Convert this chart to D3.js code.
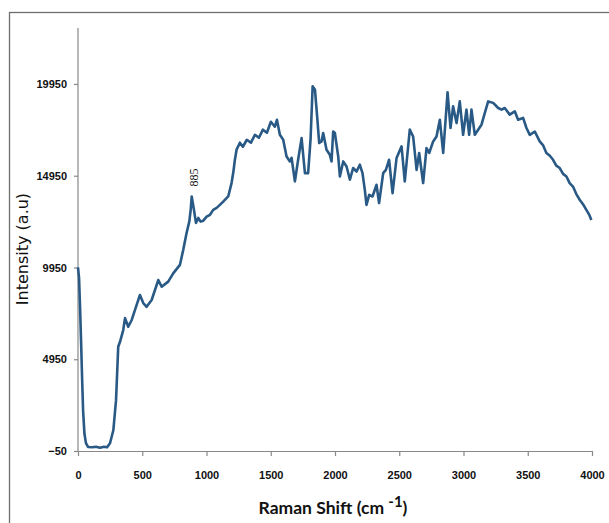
<!DOCTYPE html>
<html>
<head>
<meta charset="utf-8">
<script src="https://cdn.jsdelivr.net/npm/d3@7"></script>
<style>
    body { margin: 0; background: #fff; }
    svg { display: block; }
</style>
</head>
<body>
<svg id="chart" width="609" height="523"></svg>
<script>
const ramanShift = [
    0, 8, 16, 24, 32, 40, 50, 62, 78, 109, 140, 171, 202, 226, 249, 275, 296, 313, 327, 352, 366, 391, 418,
    443, 482, 508, 534, 573, 625, 651, 702, 741, 793, 819, 845, 866, 877, 885, 900, 918, 936, 954, 975,
    1001, 1027, 1052, 1079, 1104, 1130, 1169, 1195, 1208, 1221, 1234, 1260, 1283, 1314, 1346, 1377, 1408, 1439, 1470, 1501,
    1532, 1548, 1571, 1597, 1623, 1649, 1662, 1688, 1713, 1740, 1766, 1791, 1810, 1826, 1844, 1861, 1877, 1895, 1908, 1934,
    1960, 1973, 1986, 1999, 2025, 2038, 2064, 2090, 2116, 2141, 2168, 2193, 2214, 2232, 2245, 2266, 2292, 2323, 2343, 2375,
    2396, 2421, 2448, 2479, 2518, 2543, 2582, 2608, 2635, 2655, 2686, 2712, 2733, 2764, 2790, 2816, 2842, 2876, 2899, 2919,
    2946, 2971, 2997, 3023, 3044, 3062, 3088, 3114, 3140, 3166, 3192, 3231, 3270, 3296, 3321, 3360, 3399, 3425, 3464, 3490,
    3516, 3555, 3593, 3620, 3645, 3670, 3697, 3722, 3749, 3775, 3801, 3826, 3852, 3878, 3904, 3930, 3956, 3980, 3995
];
const intensity = [
    9950, 9400, 7800, 5900, 3900, 2100, 900, 380, 170, 150, 180, 125, 180, 150, 370, 1080, 2720, 5630, 5900, 6540, 7190, 6720, 7090,
    7630, 8450, 8010, 7810, 8180, 9270, 8900, 9180, 9630, 10090, 10910, 11830, 12450, 13090, 13820, 13200, 12380, 12650, 12450, 12500,
    12720, 12820, 13090, 13200, 13360, 13540, 13820, 14550, 15110, 15820, 16370, 16750, 16530, 16910, 16750, 17180, 17020, 17460, 17290, 17890,
    17620, 18000, 17180, 16910, 16000, 15730, 15930, 14640, 15820, 17000, 15090, 15090, 16960, 19820, 19640, 18180, 16730, 16820, 17280, 16370,
    16090, 15730, 17360, 17280, 16000, 14910, 15730, 15450, 14730, 15370, 15180, 15550, 15090, 14180, 13360, 13910, 13820, 14460, 13460, 15090,
    15270, 15820, 14000, 15910, 16550, 14640, 17460, 17090, 15270, 16190, 14550, 16460, 16190, 16820, 17090, 18000, 16190, 19490, 17550, 18730,
    17820, 19000, 17180, 18550, 17180, 18550, 17180, 17460, 17730, 18370, 19000, 18920, 18640, 18550, 18640, 18280, 18460, 18000, 18100, 17550,
    17180, 17360, 16820, 16600, 16190, 16050, 15820, 15500, 15370, 15050, 14910, 14550, 14360, 13950, 13640, 13400, 13090, 12800, 12540
];
const xTicks = [0, 500, 1000, 1500, 2000, 2500, 3000, 3500, 4000];
const yTicks = [-50, 4950, 9950, 14950, 19950];
const peakLabels = [{ shift: 885, text: "885" }];

const svg = d3.select("#chart");

// outer frame (runs off the right and bottom of the picture)
svg.append("rect")
    .attr("x", 9.5)
    .attr("y", 12.5)
    .attr("width", 640)
    .attr("height", 540)
    .style("fill", "none")
    .style("stroke", "#6e6e6e")
    .style("stroke-width", "1.3px");

const x = d3.scaleLinear().domain([0, 4000]).range([78, 592]);
const y = d3.scaleLinear().domain([-50, 23000]).range([451, 28]);

const tickFont = "'Liberation Sans', Arial, sans-serif";

const xAxis = svg.append("g")
    .attr("transform", `translate(0, ${y(-50)})`)
    .call(d3.axisBottom(x).tickValues(xTicks).tickSize(5).tickSizeOuter(0).tickPadding(15).tickFormat(d3.format("d")));

const yAxis = svg.append("g")
    .attr("transform", `translate(${x(0)}, 0)`)
    .call(d3.axisLeft(y).tickValues(yTicks).tickSize(4).tickSizeOuter(0).tickPadding(7).tickFormat(d3.format("d")));

[xAxis, yAxis].forEach(g => {
    g.select(".domain").style("stroke", "#888").style("stroke-width", "1.2px");
    g.selectAll(".tick line").style("stroke", "#888").style("stroke-width", "1.2px");
    g.selectAll(".tick text")
        .style("font-family", tickFont)
        .style("font-weight", "bold")
        .style("font-size", "11px")
        .style("fill", "#111");
});

// extend y axis line up to the top of the plot
yAxis.select(".domain").attr("d", `M0,${y(-50)}V${y(23000)}`);

const line = d3.line()
    .x((d, i) => x(ramanShift[i]))
    .y(d => y(d))
    .curve(d3.curveLinear);

svg.append("path")
    .datum(intensity)
    .attr("d", line)
    .style("fill", "none")
    .style("stroke", "#295985")
    .style("stroke-width", "2.6px")
    .style("stroke-linejoin", "round");

// peak annotation
peakLabels.forEach(p => {
    const i = ramanShift.indexOf(p.shift);
    const px = x(p.shift) + 2;
    const py = y(intensity[i]) - 10;
    svg.append("text")
        .attr("transform", `translate(${px + 4}, ${py}) rotate(-90)`)
        .style("font-family", "'Liberation Serif', 'Times New Roman', serif")
        .style("font-size", "12px")
        .style("fill", "#111")
        .text(p.text);
});

// axis titles
svg.append("text")
    .attr("transform", `translate(28, 249) rotate(-90)`)
    .style("text-anchor", "middle")
    .style("font-family", "'DejaVu Sans', Verdana, sans-serif")
    .style("font-size", "16px")
    .style("fill", "#111")
    .text("Intensity (a.u)");

const xTitle = svg.append("text")
    .attr("x", 333)
    .attr("y", 514)
    .style("text-anchor", "middle")
    .style("font-family", "Lato, 'Liberation Sans', sans-serif")
    .style("font-weight", "bold")
    .style("font-size", "17.5px")
    .style("fill", "#111");
xTitle.append("tspan").text("Raman Shift (cm ");
xTitle.append("tspan").attr("dy", -7).style("font-size", "15px").text("-1");
xTitle.append("tspan").attr("dy", 7).text(")");
</script>
</body>
</html>
